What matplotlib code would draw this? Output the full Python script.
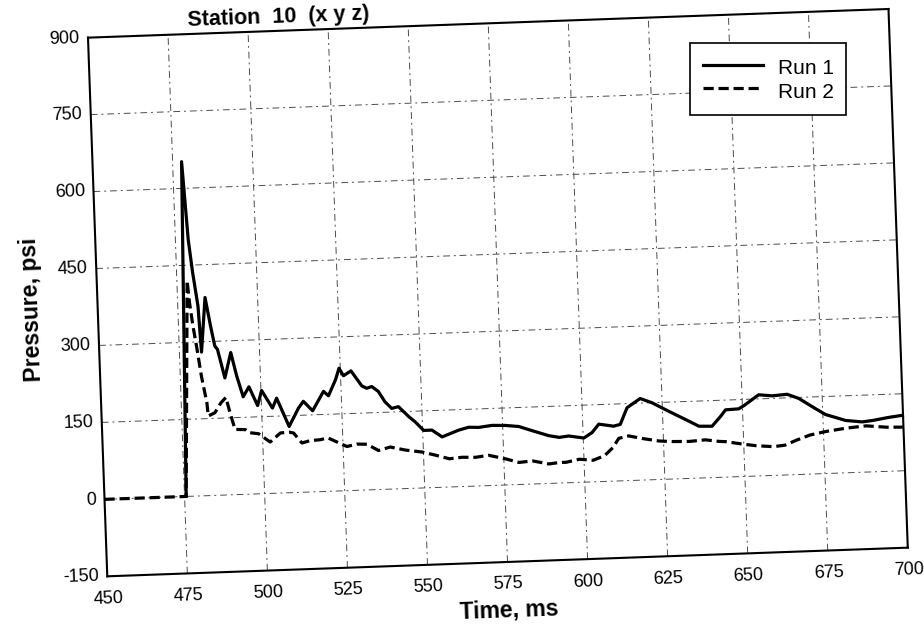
import numpy as np
import matplotlib
matplotlib.use("Agg")
import matplotlib.pyplot as plt
from matplotlib.transforms import Affine2D
import mpl_toolkits.axisartist.floating_axes as floating_axes
from mpl_toolkits.axisartist.grid_finder import FixedLocator, DictFormatter

plt.rcParams["font.family"] = ["Liberation Sans", "DejaVu Sans"]

# axis ticks
time_ticks = [450, 475, 500, 525, 550, 575, 600, 625, 650, 675, 700]
pressure_ticks = [-150, 0, 150, 300, 450, 600, 750, 900]

# Run 1 (solid)
run1_t = [475.5, 477.8, 479.0, 480.0, 481.3, 481.9, 483.6, 485.0, 486.1, 486.9,
          488.9, 491.0, 492.6, 494.4, 496.3, 498.8, 500.2, 503.4, 504.8, 508.4,
          511.5, 513.1, 515.9, 519.5, 521.0, 523.4, 524.6, 525.9, 528.3, 531.5,
          533.0, 534.6, 536.6, 538.6, 540.6, 542.7, 545.8, 547.8, 550.3, 552.9,
          556.0, 558.6, 561.2, 564.4, 567.5, 571.7, 575.8, 580.0, 584.1, 589.3,
          592.5, 595.5, 600.2, 602.8, 605.0, 609.6, 611.7, 614.0, 618.2, 621.8,
          627.0, 632.1, 636.2, 640.3, 643.0, 644.7, 648.8, 650.5, 655.2, 659.4,
          664.1, 667.7, 671.8, 675.8, 682.0, 687.2, 690.4, 695.6, 699.8]
run1_p = [0, 652, 500, 436, 370, 280, 386, 330, 291, 284,
          228, 277, 231, 190, 209, 172, 201, 166, 185, 129,
          164, 177, 158, 195, 186, 217, 239, 224, 233, 203,
          198, 201, 191, 170, 157, 160, 140, 129, 112, 112,
          98, 104, 110, 115, 114, 117, 116, 113, 104, 93,
          89, 91, 86, 96, 112, 107, 110, 142, 159, 150,
          132, 115, 101, 100, 118, 131, 132, 138, 158, 155,
          157, 148, 131, 115, 102, 98, 100, 105, 108]

# Run 2 (dashed)
run2_t = [450, 475.5, 478.2, 478.7, 479.5, 480.4, 481.6, 483.0, 483.3, 485.4,
          487.4, 489.0, 490.1, 491.5, 494.7, 495.7, 498.8, 502.3, 505.6, 508.3,
          509.7, 512.2, 514.8, 517.8, 520.4, 523.3, 526.2, 529.4, 532.5, 536.0,
          539.7, 544.4, 549.6, 553.7, 558.0, 562.0, 566.2, 570.3, 575.5, 579.7,
          583.9, 589.0, 592.2, 594.4, 598.6, 602.8, 606.4, 609.1, 611.1, 614.2,
          618.4, 623.6, 627.7, 633.0, 638.1, 642.3, 644.5, 649.7, 653.9, 659.2,
          662.8, 666.5, 670.7, 675.9, 682.2, 688.4, 694.7, 699.8]
run2_p = [0, 0, 420, 377, 332, 292, 233, 181, 155, 161,
          180, 190, 160, 127, 126, 120, 117, 100, 117, 118,
          116, 96, 100, 101, 104, 95, 86, 90, 89, 76,
          82, 75, 70, 63, 55, 57, 56, 59, 51, 43,
          45, 38, 40, 40, 45, 42, 50, 65, 83, 87,
          81, 75, 73, 72, 74, 70, 69, 63, 59, 56,
          58, 67, 76, 82, 87, 90, 86, 85]

W, H = 924, 626
fig = plt.figure(figsize=(W / 100, H / 100), dpi=100)

# data -> pixels, with the sheet turned a couple of degrees
tilt = 2.05
tr = Affine2D().scale(801 / 250, 539 / 1050).rotate_deg(tilt)

grid_helper = floating_axes.GridHelperCurveLinear(
    tr, extremes=(450, 700, -150, 900),
    grid_locator1=FixedLocator(time_ticks),
    grid_locator2=FixedLocator(pressure_ticks),
    tick_formatter1=DictFormatter({t: str(t) for t in time_ticks}),
    tick_formatter2=DictFormatter({p: str(p) for p in pressure_ticks}))

# FloatingAxes pads its limits by 2 %, so the box is grown to match
corners = tr.transform([(450, -150), (700, -150), (700, 900), (450, 900)])
span_x = np.ptp(corners[:, 0])
span_y = np.ptp(corners[:, 1])
left_px = 88 - 0.01 * span_x
top_px = 9 - 0.01 * span_y
rect = [left_px / W, 1 - (top_px + 1.02 * span_y) / H, 1.02 * span_x / W, 1.02 * span_y / H]

ax = fig.add_axes(rect, axes_class=floating_axes.FloatingAxes, grid_helper=grid_helper)
aux = ax.get_aux_axes(tr)

l1, = aux.plot(run1_t, run1_p, color="black", lw=2.3, label="Run 1")
l2, = aux.plot(run2_t, run2_p, color="black", lw=2.3, ls=(0, (3.2, 1.5)), label="Run 2")

ax.grid(True, color="0.3", linestyle=(0, (7, 4, 2, 4)), linewidth=0.7)

for side in ["top", "right", "left", "bottom"]:
    ax.axis[side].line.set_linewidth(1.5)
    ax.axis[side].toggle(ticks=False)
for side in ["top", "right"]:
    ax.axis[side].toggle(ticklabels=False, label=False)

for side in ["left", "bottom"]:
    ax.axis[side].major_ticklabels.set_fontsize(13)
ax.axis["left"].major_ticklabels.set_pad(6)
ax.axis["bottom"].major_ticklabels.set_pad(10)

ax.axis["left"].label.set_text("Pressure, psi")
ax.axis["bottom"].label.set_text("Time, ms")
for side in ["left", "bottom"]:
    ax.axis[side].label.set_fontsize(16.5)
    ax.axis[side].label.set_fontweight("bold")
    ax.axis[side].label.set_pad(7)

leg = fig.legend(handles=[l1, l2], loc="upper left",
                 bbox_to_anchor=(690 / W, 1 - 43 / H), borderaxespad=0,
                 fontsize=15, handlelength=2.9, handletextpad=0.7,
                 handleheight=1.35, labelspacing=0.0, borderpad=0.6,
                 fancybox=False, edgecolor="black", framealpha=1)
leg.get_frame().set_linewidth(1.2)

fig.text(279 / W, 1 - 23 / H, "Station  10  (x y z)", ha="center", va="baseline",
         fontsize=15.5, fontweight="bold", rotation=tilt, rotation_mode="anchor")

fig.savefig("out.png", dpi=100)
